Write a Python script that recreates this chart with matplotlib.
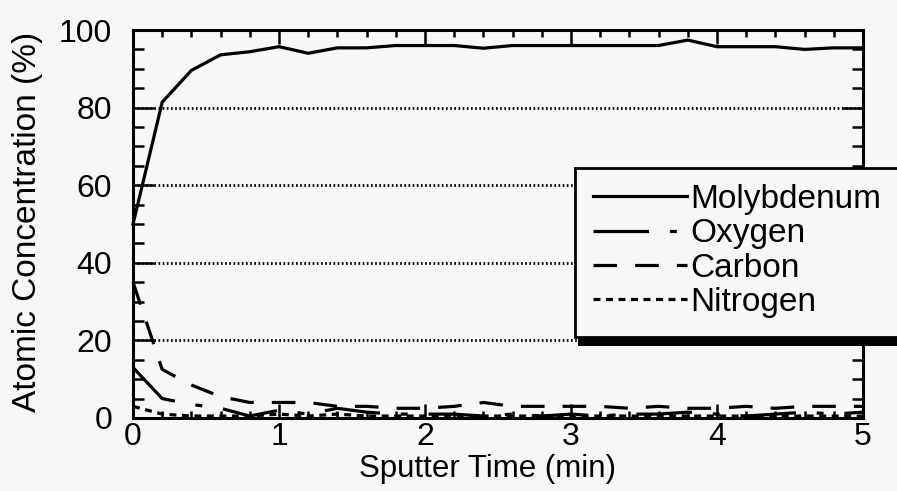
import numpy as np
import matplotlib
matplotlib.use("Agg")
import matplotlib.pyplot as plt
from matplotlib.patches import Rectangle

# Sputter depth profile data
time_min = [0.0, 0.2, 0.4, 0.6, 0.8, 1.0, 1.2, 1.4, 1.6, 1.8, 2.0, 2.2, 2.4,
            2.6, 2.8, 3.0, 3.2, 3.4, 3.6, 3.8, 4.0, 4.2, 4.4, 4.6, 4.8, 5.0]
molybdenum = [50, 81.4, 89.6, 93.6, 94.4, 95.7, 94.0, 95.4, 95.4, 96.0, 96.0, 96.0, 95.3,
              96.0, 96.0, 96.0, 96.0, 96.0, 96.0, 97.4, 95.7, 95.7, 95.7, 95.0, 95.4, 95.4]
oxygen = [13, 5, 3.5, 2.5, 0.5, 2, 1, 2.5, 1.5, 1, 1, 1, 0.5,
          1, 0.5, 1, 0.5, 1, 1, 1.5, 1, 0.5, 1, 1.5, 1, 1.5]
carbon = [35, 12.5, 8.5, 5.5, 4, 4, 4, 3, 3, 2.5, 2.5, 3, 4,
          3, 3, 3, 3, 2.5, 3, 2.5, 2.5, 3, 2.5, 3, 3, 3]
nitrogen = [3, 1, 0.5, 0.5, 0.5, 1, 0.5, 1, 0.5, 0.5, 0.5, 0.5, 0.5,
            0.5, 0.5, 0.5, 0.5, 0.5, 0.5, 0.5, 0.5, 0.5, 0.5, 0.5, 0.5, 0.5]

series_names = ["Molybdenum", "Oxygen", "Carbon", "Nitrogen"]
yticks = [0, 20, 40, 60, 80, 100]
xticks = [0, 1, 2, 3, 4, 5]

plt.rcParams["font.family"] = ["Liberation Sans", "DejaVu Sans"]
plt.rcParams["lines.scale_dashes"] = False

bg = "#f7f7f7"
fig = plt.figure(figsize=(8.97, 4.91), dpi=100, facecolor=bg)
ax = fig.add_axes([0.1483, 0.1487, 0.8137, 0.7902], facecolor=bg)

styles = [
    "-",
    (0, (40, 15, 5, 15)),
    (0, (17, 13)),
    (0, (5, 4)),
]
data = [molybdenum, oxygen, carbon, nitrogen]
handles = []
for vals, name, ls in zip(data, series_names, styles):
    h, = ax.plot(time_min, vals, color="black", lw=2.3, linestyle=ls, label=name,
                 solid_joinstyle="miter", clip_on=False, zorder=3)
    handles.append(h)

ax.set_xlim(0, 5)
ax.set_ylim(0, 100)
ax.set_xticks(xticks)
ax.set_yticks(yticks)
ax.set_xticks(np.arange(0, 5.01, 0.2), minor=True)
ax.set_yticks(np.arange(0, 100.1, 5), minor=True)

# dotted gridlines only at the inner major ticks
for y in yticks[1:-1]:
    ax.axhline(y, color="black", lw=2, linestyle=(0, (1.2, 1.8)), zorder=1)

ax.tick_params(axis="both", which="both", direction="in", top=True, right=True,
               labelsize=23, width=1.8, colors="black")
ax.tick_params(axis="x", which="major", length=10, pad=3)
ax.tick_params(axis="x", which="minor", length=5)
ax.tick_params(axis="y", which="major", length=15, pad=15)
ax.tick_params(axis="y", which="minor", length=8)
for sp in ax.spines.values():
    sp.set_linewidth(2.2)

ax.set_xlabel("Sputter Time (min)", fontsize=22.5)
ax.set_ylabel("Atomic Concentration (%)", fontsize=24)
ax.xaxis.set_label_coords(0.485, -0.093)
ax.yaxis.set_label_coords(-0.123, 0.505)

# legend box with the heavy bottom shadow, drawn at figure level
fig.patches.append(Rectangle((0.644, 0.295), 0.4, 0.024, transform=fig.transFigure,
                             facecolor="black", edgecolor="none", zorder=5))
fig.patches.append(Rectangle((0.641, 0.313), 0.4, 0.345, transform=fig.transFigure,
                             facecolor=bg, edgecolor="black", lw=2, zorder=6))
leg = fig.legend(handles=handles, labels=series_names, loc="upper left",
                 bbox_to_anchor=(0.661, 0.625), frameon=False, fontsize=24,
                 handlelength=2.83, handletextpad=0.1, labelspacing=0.1,
                 borderaxespad=0, borderpad=0)
leg.set_zorder(7)

fig.savefig("out.png", dpi=100, facecolor=bg)
